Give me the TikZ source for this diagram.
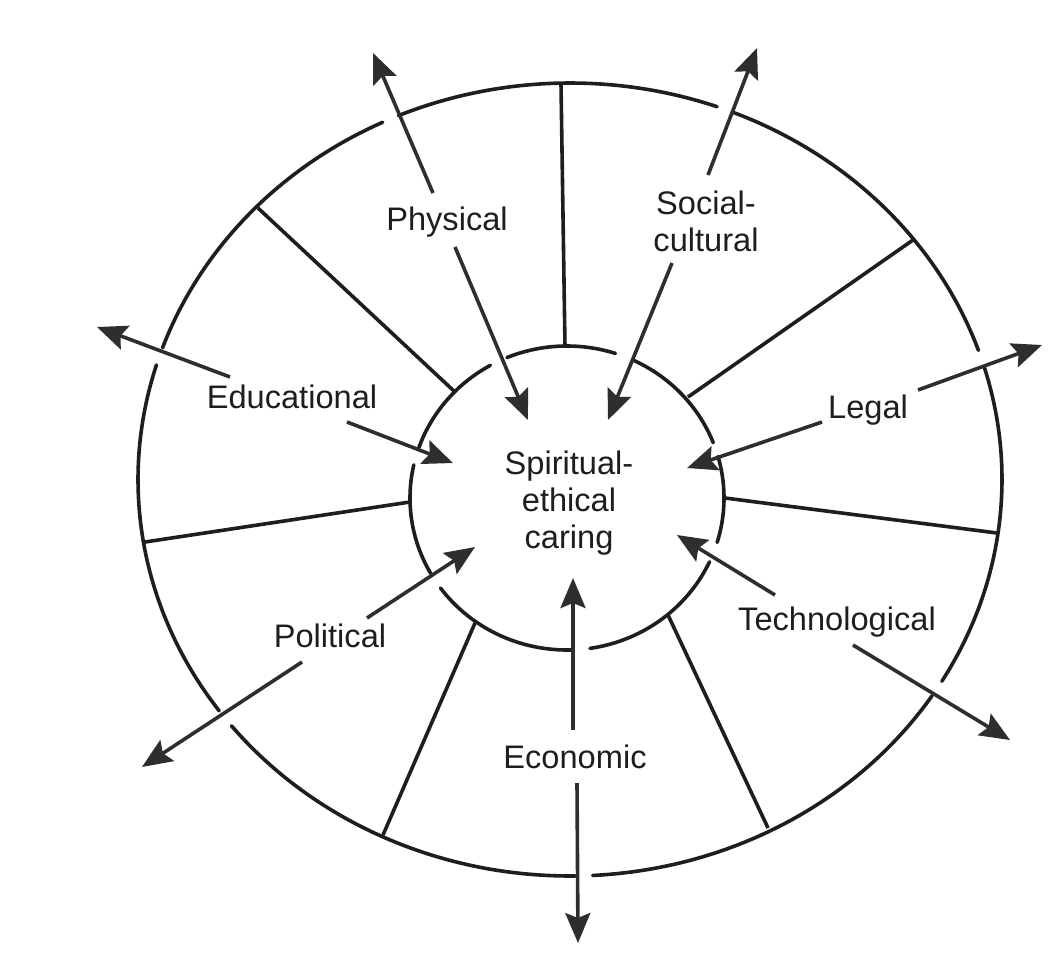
\documentclass[tikz,border=0pt]{standalone}
\usepackage{fontspec}
\setmainfont{Liberation Sans}
\usetikzlibrary{arrows.meta}
\definecolor{ink}{HTML}{1E1E1E}
\definecolor{headink}{HTML}{2E2E2E}
\begin{document}
\begin{tikzpicture}[x=1pt,y=-1pt,
  ring/.style={line width=3.6pt, draw=ink, line cap=round},
  spoke/.style={line width=3.6pt, draw=ink},
  arr/.style={line width=3.6pt, draw=headink, -{Stealth[length=30pt,width=25pt,inset=5pt]}},
  lbl/.style={font=\fontsize{32.6}{37}\selectfont, inner sep=0pt, text=ink, align=center}]
\fill[white] (0,0) rectangle (1060,975);
\useasboundingbox (0,0) rectangle (1060,975);

% outer ring (broken where arrows cross)
\foreach \a/\b in {-113.4/-70.1, -67.9/-19.0, -16.5/30.6, 33.1/87.0, 89.3/141.6, 144.3/196.8, 199.4/244.3}
  \draw[ring] plot[domain=\a:\b, samples=50, smooth] ({570+432*cos(\x)},{479.5+396.5*sin(\x)});

% inner circle (broken where arrows cross)
\foreach \a/\b in {-112.5/-72.0, -64.9/-21.3, -15.8/17.0, 24.8/81.6, 87.8/143.7, 150.2/192.6, 199.4/240.8}
  \draw[ring] plot[domain=\a:\b, samples=40, smooth] ({567+157*cos(\x)},{498+152*sin(\x)});

% spokes
\coordinate (o1) at (561,84);   \coordinate (i1) at (565,347);
\coordinate (o2) at (913,240);  \coordinate (i2) at (688,397);
\coordinate (o3) at (997,533);  \coordinate (i3) at (725,498);
\coordinate (o4) at (768,828);  \coordinate (i4) at (668,615);
\coordinate (o5) at (383,835);  \coordinate (i5) at (475,623);
\coordinate (o6) at (145,542);  \coordinate (i6) at (410,502);
\coordinate (o7) at (258,208);  \coordinate (i7) at (455,392);
\foreach \k in {1,...,7} \draw[spoke] (i\k) -- (o\k);

% labels
\node[lbl] (sp) at (569,503.5) {Spiritual-\\ethical\\caring};
\node[lbl, anchor=base] (phys) at (447,230) {Physical};
\node[lbl] (soc) at (706,221.6) {Social-\\cultural};
\node[lbl, anchor=base] (leg) at (868,418) {Legal};
\node[lbl, anchor=base] (tech) at (837,630) {Technological};
\node[lbl, anchor=base] (econ) at (575,768) {Economic};
\node[lbl, anchor=base] (pol) at (330,647) {Political};
\node[lbl, anchor=base] (edu) at (292,408) {Educational};

% arrow end points
\coordinate (physIn0) at (455,247);  \coordinate (physIn1) at (528,420);
\coordinate (physOut0) at (433,193); \coordinate (physOut1) at (373,53);
\coordinate (socIn0) at (672,263);   \coordinate (socIn1) at (608,420);
\coordinate (socOut0) at (708,175);  \coordinate (socOut1) at (757,48);
\coordinate (legIn0) at (822,422);   \coordinate (legIn1) at (687,468);
\coordinate (legOut0) at (918,390);  \coordinate (legOut1) at (1042,345);
\coordinate (techIn0) at (775,595);  \coordinate (techIn1) at (677,535);
\coordinate (techOut0) at (853,645); \coordinate (techOut1) at (1010,740);
\coordinate (econIn0) at (573,730);  \coordinate (econIn1) at (573,578);
\coordinate (econOut0) at (577,783); \coordinate (econOut1) at (578,943);
\coordinate (polIn0) at (367,618);   \coordinate (polIn1) at (475,547);
\coordinate (polOut0) at (302,662);  \coordinate (polOut1) at (142,767);
\coordinate (eduIn0) at (347,422);   \coordinate (eduIn1) at (453,463);
\coordinate (eduOut0) at (230,377);  \coordinate (eduOut1) at (97,327);

\foreach \n in {phys,soc,leg,tech,econ,pol,edu} {
  \draw[arr] (\n In0) -- (\n In1);
  \draw[arr] (\n Out0) -- (\n Out1);
}
\end{tikzpicture}
\end{document}
